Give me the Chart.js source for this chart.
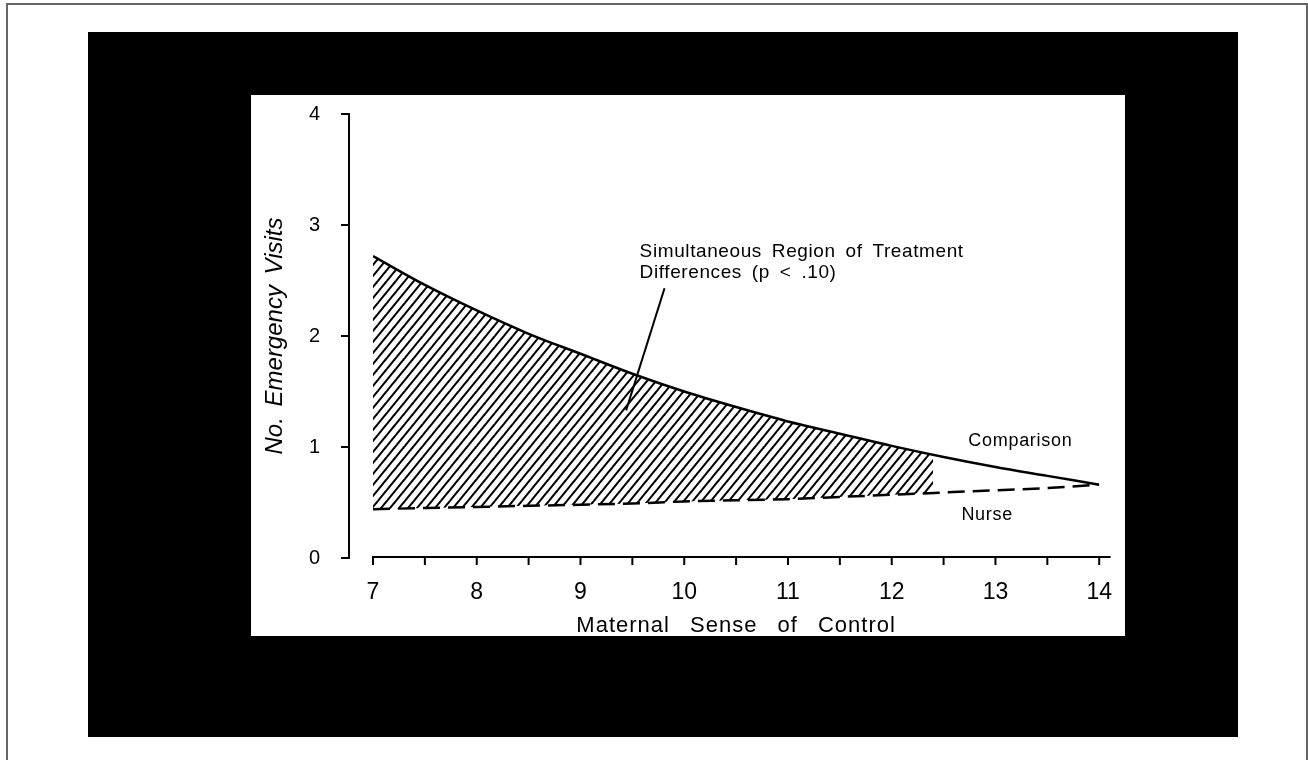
<!DOCTYPE html>
<html>
<head>
<meta charset="utf-8">
<script src="https://cdn.jsdelivr.net/npm/chart.js@4"></script>
<style>
  html, body { margin: 0; padding: 0; background: #fff; }
  body { width: 1308px; height: 760px; position: relative; overflow: hidden; }
  #frame { position: absolute; left: 6px; top: 3px; width: 1298px; height: 800px; border: 2px solid #666; }
  #black { position: absolute; left: 88px; top: 32px; width: 1150px; height: 705px; background: #000; }
  #panel { position: absolute; left: 251px; top: 95px; width: 874px; height: 541px; background: #fff; }
  canvas { display: block; }
</style>
</head>
<body>
<div id="frame"></div>
<div id="black"></div>
<div id="panel"><canvas id="chart" width="874" height="541"></canvas></div>
<script>
// values
const xValues = [7, 7.5, 8, 8.5, 9, 9.5, 10, 10.5, 11, 11.5, 12, 12.5, 13, 13.5, 14];
const comparison = [2.72, 2.46, 2.23, 2.02, 1.84, 1.66, 1.50, 1.36, 1.23, 1.12, 1.01, 0.91, 0.82, 0.74, 0.66];
const nurse = [0.44, 0.45, 0.46, 0.47, 0.48, 0.49, 0.51, 0.52, 0.53, 0.55, 0.57, 0.59, 0.61, 0.63, 0.66];

// shaded region (p < .10) runs from 7 to about 12.4
const regionX = [7, 7.5, 8, 8.5, 9, 9.5, 10, 10.5, 11, 11.5, 12, 12.4];
const regionTop = [2.72, 2.46, 2.23, 2.02, 1.84, 1.66, 1.50, 1.36, 1.23, 1.12, 1.01, 0.93];
const regionBottom = [0.44, 0.45, 0.46, 0.47, 0.48, 0.49, 0.51, 0.52, 0.53, 0.55, 0.57, 0.585];

const xTickMarks = [7, 7.5, 8, 8.5, 9, 9.5, 10, 10.5, 11, 11.5, 12, 12.5, 13, 13.5, 14];
const yTickMarks = [0, 1, 2, 3, 4];

const xTitle = "Maternal Sense of Control";
const yTitle = "No. Emergency Visits";
const noteLines = ["Simultaneous Region of Treatment", "Differences (p < .10)"];

const FONT = '"Liberation Sans", Arial, sans-serif';

const toPoints = (xs, ys) => xs.map((x, i) => ({ x, y: ys[i] }));

function hatch() {
  const w = 9, h = 11;
  const c = document.createElement("canvas");
  c.width = w; c.height = h;
  const g = c.getContext("2d");
  g.strokeStyle = "#000";
  g.lineWidth = 2;
  [-w, 0, w].forEach(dx => {
    g.beginPath();
    g.moveTo(dx - w, 2 * h);
    g.lineTo(dx + 2 * w, -h);
    g.stroke();
  });
  return g.createPattern(c, "repeat");
}

const decorations = {
  id: "decorations",
  afterDraw(chart) {
    const { ctx, chartArea: a, scales: { x, y } } = chart;
    ctx.save();
    ctx.strokeStyle = "#000";
    ctx.fillStyle = "#000";
    ctx.lineWidth = 2;

    // y axis, set off to the left of the plot
    const yx = a.left - 24;
    ctx.beginPath();
    ctx.moveTo(yx, y.getPixelForValue(4));
    ctx.lineTo(yx, y.getPixelForValue(0));
    yTickMarks.forEach(v => {
      const py = y.getPixelForValue(v);
      ctx.moveTo(yx - 8, py);
      ctx.lineTo(yx + 1, py);
    });
    ctx.stroke();

    // x axis with half-unit ticks
    const xy = y.getPixelForValue(0) - 1;
    ctx.beginPath();
    ctx.moveTo(x.getPixelForValue(7) - 1, xy);
    ctx.lineTo(x.getPixelForValue(14.11), xy);
    xTickMarks.forEach(v => {
      const px = x.getPixelForValue(v);
      ctx.moveTo(px, xy);
      ctx.lineTo(px, xy + 8);
    });
    ctx.stroke();

    // leader line to the shaded region
    ctx.beginPath();
    ctx.moveTo(x.getPixelForValue(9.81), y.getPixelForValue(2.43));
    ctx.lineTo(x.getPixelForValue(9.44), y.getPixelForValue(1.33));
    ctx.stroke();

    // note text
    ctx.font = "19px " + FONT;
    ctx.letterSpacing = "0.6px";
    ctx.wordSpacing = "4px";
    ctx.textAlign = "left";
    ctx.textBaseline = "middle";
    ctx.fillText(noteLines[0], x.getPixelForValue(9.57), y.getPixelForValue(2.757));
    ctx.fillText(noteLines[1], x.getPixelForValue(9.57), y.getPixelForValue(2.568));

    // series labels
    ctx.font = "18px " + FONT;
    ctx.letterSpacing = "0.7px";
    ctx.wordSpacing = "0px";
    ctx.textAlign = "center";
    ctx.fillText("Comparison", x.getPixelForValue(13.24), y.getPixelForValue(1.05));
    ctx.fillText("Nurse", x.getPixelForValue(12.92), y.getPixelForValue(0.39));

    // x title
    ctx.font = "22px " + FONT;
    ctx.letterSpacing = "1px";
    ctx.wordSpacing = "13px";
    ctx.fillText(xTitle, (a.left + a.right) / 2, a.bottom + 68);

    // y title
    ctx.font = "italic 24px " + FONT;
    ctx.letterSpacing = "0px";
    ctx.wordSpacing = "4px";
    ctx.translate(a.left - 98, (a.top + a.bottom) / 2);
    ctx.rotate(-Math.PI / 2);
    ctx.fillText(yTitle, 0, 0);
    ctx.restore();
  }
};

new Chart(document.getElementById("chart"), {
  type: "line",
  data: {
    datasets: [
      {
        label: "Comparison",
        data: toPoints(xValues, comparison),
        borderColor: "#000",
        borderWidth: 2.5,
        pointRadius: 0,
        cubicInterpolationMode: "monotone",
        fill: false
      },
      {
        label: "Nurse",
        data: toPoints(xValues, nurse),
        borderColor: "#000",
        borderWidth: 2.5,
        borderDash: [17, 8],
        pointRadius: 0,
        fill: false
      },
      {
        label: "Region",
        data: toPoints(regionX, regionTop),
        borderColor: "rgba(0,0,0,0)",
        borderWidth: 0,
        pointRadius: 0,
        cubicInterpolationMode: "monotone",
        backgroundColor: hatch(),
        fill: 3
      },
      {
        label: "Region base",
        data: toPoints(regionX, regionBottom),
        borderColor: "rgba(0,0,0,0)",
        borderWidth: 0,
        pointRadius: 0,
        fill: false
      }
    ]
  },
  options: {
    responsive: false,
    animation: false,
    devicePixelRatio: 1,
    layout: { padding: { top: 19, right: 19, left: 0, bottom: 0 } },
    plugins: { legend: { display: false }, tooltip: { enabled: false } },
    scales: {
      x: {
        type: "linear",
        min: 7,
        max: 14,
        grid: { display: false },
        border: { display: false },
        ticks: { stepSize: 1, padding: 13, maxRotation: 0, color: "#000", font: { family: FONT, size: 23 } },
        afterFit(s) { s.height = 78; }
      },
      y: {
        min: 0,
        max: 4,
        grid: { display: false },
        border: { display: false },
        ticks: { stepSize: 1, padding: 45, color: "#000", font: { family: FONT, size: 20 } },
        afterFit(s) {
          s.width = 122;
          s.paddingTop = 10;
          s.paddingBottom = 10;
        }
      }
    }
  },
  plugins: [decorations]
});
</script>
</body>
</html>
